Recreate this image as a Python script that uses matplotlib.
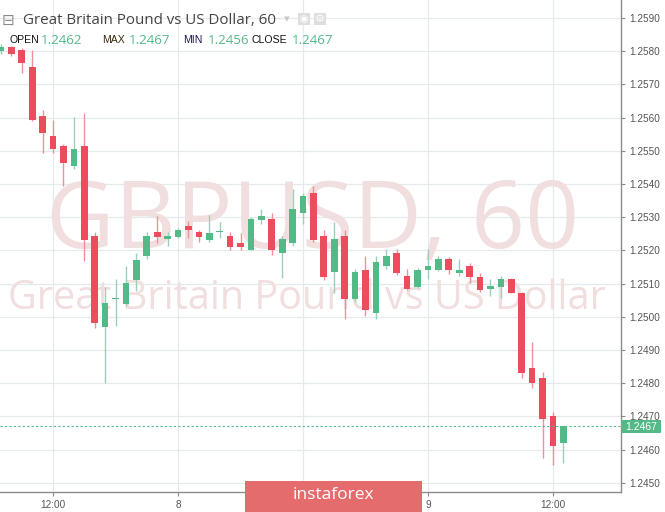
import matplotlib
matplotlib.use("Agg")
import matplotlib.pyplot as plt
from matplotlib.patches import Rectangle
import numpy as np

# hourly candles, hour index counted from day 7 00:00
hours = list(range(7, 62))
opens = [1.25800, 1.25813, 1.25803, 1.25753, 1.25604, 1.25544, 1.25514, 1.25455, 1.25514, 1.25242,
         1.24970, 1.25052, 1.25039, 1.25111, 1.25182, 1.25254, 1.25234, 1.25240, 1.25272, 1.25254,
         1.25232, 1.25255, 1.25242, 1.25222, 1.25202, 1.25291, 1.25293, 1.25192, 1.25222, 1.25311,
         1.25374, 1.25242, 1.25134, 1.25242, 1.25052, 1.25142, 1.25011, 1.25152, 1.25193, 1.25124,
         1.25089, 1.25142, 1.25142, 1.25174, 1.25132, 1.25154, 1.25121, 1.25083, 1.25091, 1.25114,
         1.25071, 1.24845, 1.24815, 1.24702, 1.24620]
highs = [1.25820, 1.25816, 1.25810, 1.25804, 1.25624, 1.25594, 1.25520, 1.25603, 1.25613, 1.25254,
         1.25088, 1.25114, 1.25152, 1.25193, 1.25255, 1.25303, 1.25256, 1.25266, 1.25288, 1.25262,
         1.25305, 1.25285, 1.25254, 1.25252, 1.25300, 1.25323, 1.25313, 1.25242, 1.25386, 1.25374,
         1.25395, 1.25260, 1.25285, 1.25262, 1.25144, 1.25184, 1.25184, 1.25203, 1.25203, 1.25144,
         1.25147, 1.25203, 1.25184, 1.25180, 1.25174, 1.25162, 1.25132, 1.25114, 1.25124, 1.25118,
         1.25073, 1.24924, 1.24832, 1.24712, 1.24670]
lows = [1.25790, 1.25786, 1.25735, 1.25590, 1.25494, 1.25494, 1.25395, 1.25445, 1.25167, 1.24966,
        1.24800, 1.24973, 1.25031, 1.25077, 1.25175, 1.25222, 1.25214, 1.25236, 1.25237, 1.25226,
        1.25224, 1.25237, 1.25202, 1.25202, 1.25202, 1.25278, 1.25186, 1.25117, 1.25214, 1.25278,
        1.25226, 1.25110, 1.25071, 1.24993, 1.25043, 1.25003, 1.24993, 1.25144, 1.25125, 1.25081,
        1.25087, 1.25114, 1.25137, 1.25130, 1.25124, 1.25101, 1.25073, 1.25063, 1.25056, 1.25071,
        1.24815, 1.24786, 1.24573, 1.24553, 1.24560]
closes = [1.25812, 1.25792, 1.25763, 1.25592, 1.25554, 1.25504, 1.25462, 1.25504, 1.25232, 1.24981,
          1.25042, 1.25056, 1.25103, 1.25172, 1.25242, 1.25240, 1.25244, 1.25262, 1.25260, 1.25240,
          1.25252, 1.25257, 1.25210, 1.25210, 1.25293, 1.25303, 1.25202, 1.25234, 1.25323, 1.25364,
          1.25230, 1.25120, 1.25234, 1.25052, 1.25134, 1.25021, 1.25164, 1.25184, 1.25132, 1.25082,
          1.25142, 1.25154, 1.25174, 1.25142, 1.25142, 1.25121, 1.25081, 1.25093, 1.25114, 1.25071,
          1.24830, 1.24800, 1.24692, 1.24612, 1.24670]

time_ticks = [12, 24, 36, 48, 60]
time_labels = ["12:00", "8", "", "9", "12:00"]  # the 12:00 of day 8 sits under the badge
last_price = 1.2467

W, H = 665, 512
UP = "#53b987"
DOWN = "#eb4d5c"


def fx(px):
    return px / W


def fy(py):
    return 1 - py / H


fig = plt.figure(figsize=(W / 100, H / 100), dpi=100)
fig.patch.set_facecolor("white")
ax = fig.add_axes([0, fy(492), fx(621), 1 - fy(492)])
ax.set_facecolor("white")

ax.set_xlim(6.91, 66.53)
ax.set_ylim(1.24472, 1.25954)

# grid
ax.set_axisbelow(True)
ax.set_yticks(np.arange(1.2450, 1.25901, 0.001))
ax.set_yticklabels(["%.4f" % v for v in np.arange(1.2450, 1.25901, 0.001)])
ax.set_xticks(time_ticks)
ax.set_xticklabels(time_labels)
ax.grid(True, color="#e4eaee", lw=0.9)

# watermark
ax.text(fx(313), fy(223), "GBPUSD, 60", transform=fig.transFigure, ha="center", va="center",
        fontsize=68, family="Open Sans", color="#f1dede", zorder=0.6)
ax.text(fx(307), fy(299), "Great Britain Pound vs US Dollar", transform=fig.transFigure,
        ha="center", va="center", fontsize=28.5, family="Open Sans", color="#f1dede", zorder=0.6)

# candles
for h, o, hi, lo, c in zip(hours, opens, highs, lows, closes):
    col = UP if c >= o else DOWN
    wick = "#9ccfb8" if c >= o else "#f0909a"
    ax.vlines(h, lo, hi, color=wick, lw=1, zorder=2)
    ax.bar(h, max(abs(c - o), 0.00003), bottom=min(o, c), width=0.64, color=col, zorder=3)

# last price line
ax.axhline(last_price, color=UP, lw=0.8, ls=(0, (2, 2)), zorder=4)

# axes style
for s in ["top", "left"]:
    ax.spines[s].set_visible(False)
for s in ["right", "bottom"]:
    ax.spines[s].set_color("#8c8c8c")
    ax.spines[s].set_linewidth(1)
ax.yaxis.tick_right()
ax.tick_params(axis="y", length=3, color="#8c8c8c", labelcolor="#555555", labelsize=7.2, pad=3)
ax.tick_params(axis="x", length=3, color="#8c8c8c", labelcolor="#555555", labelsize=7.2, pad=3)
for lab in ax.get_yticklabels() + ax.get_xticklabels():
    lab.set_family("Liberation Sans")

# price label on the axis
fig.patches.append(Rectangle((fx(621), fy(433)), fx(40), fy(420) - fy(433), transform=fig.transFigure,
                             facecolor=UP, edgecolor="none", zorder=5))
fig.text(fx(641), fy(426.5), "%.4f" % last_price, ha="center", va="center", color="white",
         fontsize=7.5, family="Liberation Sans", zorder=6)

# header
fig.text(fx(2), fy(20), "\u229f", ha="left", va="center", fontsize=11, color="#8a8a8a")
fig.text(fx(23), fy(20), "Great Britain Pound vs US Dollar, 60", ha="left", va="center",
         fontsize=10.9, family="Open Sans", color="#444444")
fig.text(fx(284), fy(19), "\u25be", ha="left", va="center", fontsize=8, color="#c8c8c8")
for ix in [298, 314]:
    fig.patches.append(Rectangle((fx(ix), fy(25)), fx(12), fy(13) - fy(25), transform=fig.transFigure,
                                 facecolor="#dedede", edgecolor="none"))
fig.text(fx(304), fy(19), "\u25c9", ha="center", va="center", fontsize=7, color="white")
fig.text(fx(320), fy(19), "\u2699", ha="center", va="center", fontsize=8, color="white")

ohlc = [("OPEN", 10, "#111111", "1.2462", 41), ("MAX", 102, "#3a2a10", "1.2467", 129),
        ("MIN", 183, "#1a1a50", "1.2456", 208), ("CLOSE", 252, "#111111", "1.2467", 292)]
for name, nx, ncol, val, vx in ohlc:
    fig.text(fx(nx), fy(40), name, ha="left", va="center", fontsize=7.6, family="Liberation Sans",
             color=ncol)
    fig.text(fx(vx), fy(40), val, ha="left", va="center", fontsize=9.6, family="Open Sans",
             color=UP)

# instaforex badge
fig.patches.append(Rectangle((fx(245), 0), fx(177), fy(481), transform=fig.transFigure,
                             facecolor="#e46c6c", edgecolor="none", zorder=7))
fig.text(fx(333), fy(495), "instaforex", ha="center", va="center", fontsize=12.5,
         family="Open Sans", color="white", zorder=8)

fig.savefig("out.png", dpi=100, facecolor="white")
